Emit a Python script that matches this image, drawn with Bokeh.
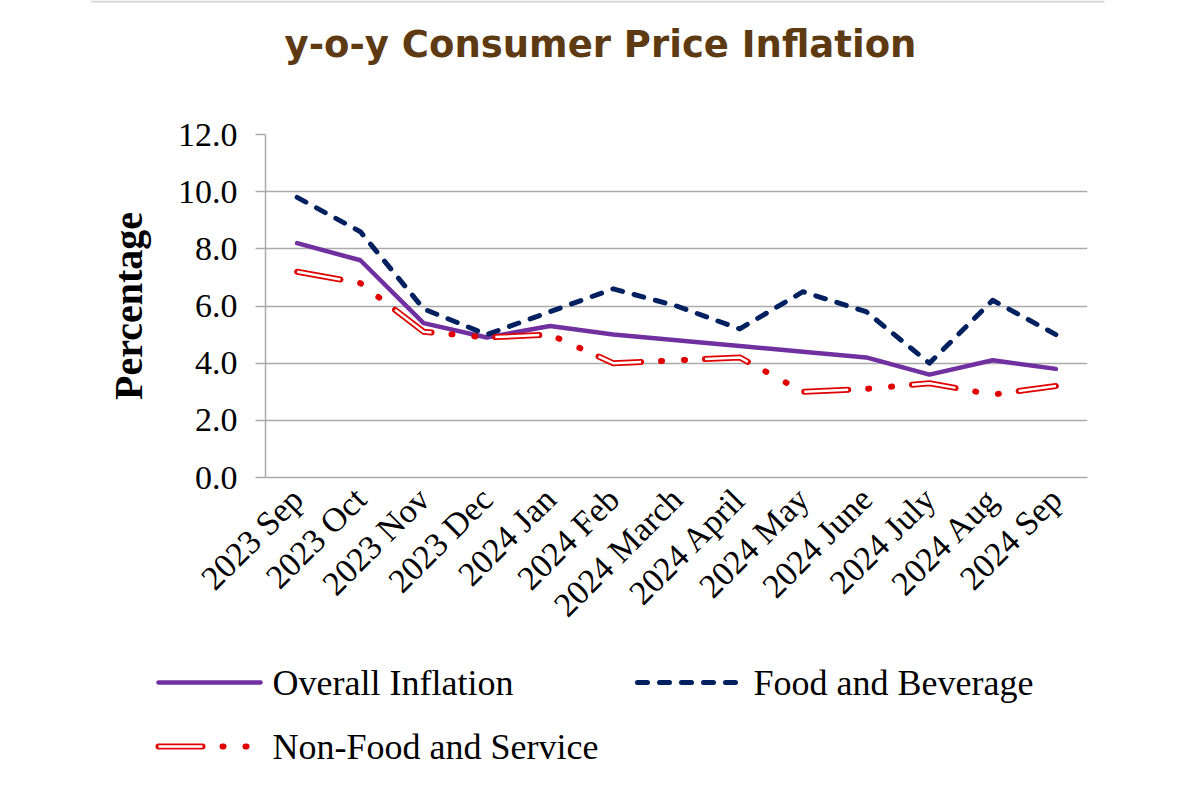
from bokeh.plotting import figure
from bokeh.layouts import column, row
from bokeh.models import Range1d, FactorRange, FixedTicker, PrintfTickFormatter
from bokeh.core.properties import value
from bokeh.embed import file_html
from bokeh.resources import INLINE
import math

# ---- data ----
months = ["2023 Sep", "2023 Oct", "2023 Nov", "2023 Dec", "2024 Jan", "2024 Feb",
          "2024 March", "2024 April", "2024 May", "2024 June", "2024 July",
          "2024 Aug", "2024 Sep"]
overall = [8.2, 7.6, 5.4, 4.9, 5.3, 5.0, 4.8, 4.6, 4.4, 4.2, 3.6, 4.1, 3.8]
food = [9.8, 8.6, 5.9, 5.0, 5.8, 6.6, 6.0, 5.2, 6.5, 5.8, 4.0, 6.2, 5.0]
nonfood = [7.2, 6.8, 5.1, 4.9, 5.0, 4.0, 4.1, 4.2, 3.0, 3.1, 3.3, 2.9, 3.2]
y_ticks = [0, 2, 4, 6, 8, 10, 12]

title_text = "y-o-y Consumer Price Inflation"
series_names = ["Overall Inflation", "Food and Beverage", "Non-Food and Service"]

SERIF = "Liberation Serif"
GRID = "#ababab"
PURPLE, NAVY, RED = "#7030A0", "#002060", "#E00000"
W = 1184

overall_style = dict(line_color=PURPLE, line_width=4.5, line_join="round", line_cap="round")
food_style = dict(line_color=NAVY, line_width=5, line_dash="10 12",
                  line_cap="round", line_join="round")
nf_out_style = dict(line_color=RED, line_width=6, line_dash="44 20 1 22 1 20",
                    line_cap="round", line_join="round")
nf_in_style = dict(line_color="white", line_width=2.5, line_dash="44 64",
                   line_cap="butt", line_join="round")


def strip(height):
    f = figure(width=W, height=height, output_backend="svg", toolbar_location=None,
               x_range=Range1d(0, W), y_range=Range1d(height, 0),
               min_border_left=0, min_border_right=0, min_border_top=0,
               min_border_bottom=0)
    f.axis.visible = False
    f.grid.visible = False
    f.outline_line_color = None
    f.border_fill_color = "white"
    f.background_fill_color = "white"
    return f


# ---------------- title strip ----------------
t = strip(100)
t.line([91, 1104], [1, 1], line_color="#d4d4d4", line_width=2)
t.text(x=[600], y=[44], text=[title_text], text_align="center",
       text_baseline="middle", text_font=value("DejaVu Sans"),
       text_font_style="bold", text_font_size="37px", text_color="#5E3A12")

# ---------------- main chart ----------------
p = figure(width=W, height=540, output_backend="svg", toolbar_location=None,
           x_range=FactorRange(*months, range_padding=0), y_range=Range1d(0, 12),
           min_border_left=265, min_border_right=97, min_border_top=34,
           min_border_bottom=163)
p.outline_line_color = None
p.background_fill_color = "white"
p.border_fill_color = "white"

p.xgrid.grid_line_color = None
p.ygrid.grid_line_color = GRID
p.ygrid.grid_line_width = 1.5
p.yaxis.ticker = FixedTicker(ticks=y_ticks)
p.yaxis.formatter = PrintfTickFormatter(format="%.1f")

p.yaxis.axis_line_color = GRID
p.yaxis.axis_line_width = 1.5
p.yaxis.major_tick_line_color = GRID
p.yaxis.major_tick_line_width = 1.5
p.yaxis.major_tick_out = 10
p.yaxis.major_tick_in = 0
p.yaxis.minor_tick_line_color = None
p.yaxis.major_label_text_font = SERIF
p.yaxis.major_label_text_font_size = "34px"
p.yaxis.major_label_text_color = "black"
p.yaxis.major_label_standoff = 18
p.yaxis.axis_label = "Percentage"
p.yaxis.axis_label_text_font = SERIF
p.yaxis.axis_label_text_font_style = "bold"
p.yaxis.axis_label_text_font_size = "40px"
p.yaxis.axis_label_text_color = "black"
p.yaxis.axis_label_standoff = 24

p.xaxis.axis_line_color = GRID
p.xaxis.axis_line_width = 1.5
p.xaxis.major_tick_line_color = None
p.xaxis.minor_tick_line_color = None
p.xaxis.major_label_orientation = math.pi / 4
p.xaxis.major_label_text_font = SERIF
p.xaxis.major_label_text_font_size = "34px"
p.xaxis.major_label_text_color = "black"
p.xaxis.major_label_standoff = 10

p.line(months, overall, **overall_style)
p.line(months, food, **food_style)
p.line(months, nonfood, **nf_out_style)
p.line(months, nonfood, **nf_in_style)

# ---------------- legend strip ----------------
q = strip(144)
q.line([158, 260], [42, 42], **overall_style)
q.line([637, 742], [42, 42], **food_style)
q.line([158, 250], [106, 106], **nf_out_style)
q.line([158, 250], [106, 106], **nf_in_style)
q.text(x=[272, 753, 272], y=[42, 42, 106], text=series_names,
       text_align="left", text_baseline="middle", text_font=value(SERIF),
       text_font_size="36px", text_color="black")

layout = column(row(t), p, row(q), spacing=0)
open("out.html", "w").write(file_html(layout, INLINE))
